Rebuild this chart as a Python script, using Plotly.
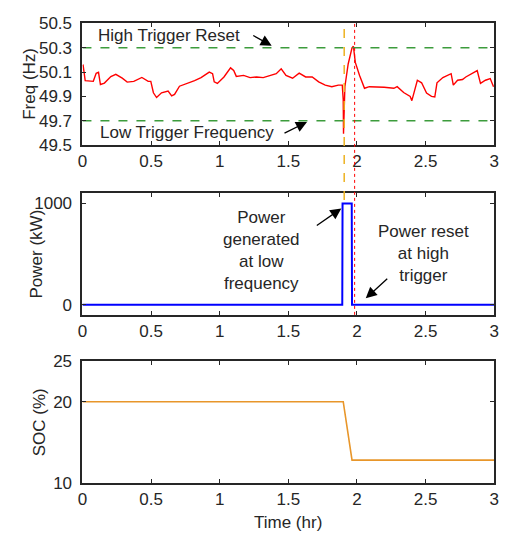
import plotly.graph_objects as go

W, H = 510, 542

# ---- data ----
freq_time = [0, 0.005, 0.02, 0.079, 0.10, 0.117, 0.131, 0.16, 0.207, 0.243, 0.29, 0.326, 0.374, 0.433,
             0.479, 0.498, 0.517, 0.54, 0.576, 0.624, 0.65, 0.671, 0.707, 0.779, 0.817, 0.864, 0.924,
             0.948, 0.96, 0.983, 1.031, 1.079, 1.102, 1.121, 1.174, 1.221, 1.269, 1.317, 1.364, 1.412,
             1.448, 1.483, 1.531, 1.579, 1.626, 1.674, 1.721, 1.769, 1.817, 1.864, 1.893, 1.90, 1.902,
             1.912, 1.936, 1.964, 1.974, 1.988, 2.019, 2.055, 2.09, 2.15, 2.198, 2.269, 2.293, 2.34,
             2.388, 2.40, 2.412, 2.44, 2.471, 2.507, 2.543, 2.567, 2.583, 2.626, 2.686, 2.702, 2.733,
             2.769, 2.793, 2.84, 2.876, 2.90, 2.936, 2.971, 2.995]
freq_hz = [50.153, 50.156, 50.03, 50.024, 50.09, 50.098, 49.998, 50.01, 50.063, 50.082, 50.05, 50.018,
           50.024, 50.056, 50.024, 50.024, 49.93, 49.891, 49.93, 49.944, 49.905, 49.917, 49.984, 50.01,
           50.03, 50.055, 50.10, 50.087, 50.02, 50.007, 50.06, 50.135, 50.113, 50.065, 50.073, 50.055,
           50.06, 50.055, 50.073, 50.087, 50.127, 50.073, 50.05, 50.092, 50.06, 50.06, 50.02, 49.993,
           49.98, 49.993, 49.993, 49.873, 49.593, 49.98, 50.167, 50.30, 50.313, 50.18, 50.073, 49.967,
           49.98, 49.98, 49.975, 49.967, 49.98, 49.932, 49.90, 49.865, 49.913, 50.033, 50.012, 49.927,
           49.90, 49.895, 50.012, 50.055, 50.087, 49.993, 50.033, 50.039, 50.06, 50.087, 50.113, 50.007,
           50.033, 50.047, 49.98]

power_time = [0, 1.893, 1.895, 1.962, 1.964, 3.0]
power_kw = [0, 0, 1000, 1000, 0, 0]

soc_time = [0, 1.90, 1.964, 3.0]
soc_pct = [20, 20, 12.8, 12.8]

high_trigger = 50.3
low_trigger = 49.7
low_trigger_time = 1.907
reset_time = 1.983

x_ticks = [0, 0.5, 1, 1.5, 2, 2.5, 3]
x_ticktext = ["0", "0.5", "1", "1.5", "2", "2.5", "3"]
freq_ticks = [49.5, 49.7, 49.9, 50.1, 50.3, 50.5]
power_ticks = [0, 1000]
soc_ticks = [10, 20, 25]

# ---- layout geometry (pixels) ----
XL, XR = 79, 499
panels = [(15, 141), (191, 317), (365, 491)]

def ydom(top, bot):
    return [1 - bot / H, 1 - top / H]

FONT = "Liberation Sans, Arial, sans-serif"
TXT = "#262626"
FS = 17

fig = go.Figure()
fig.add_trace(go.Scatter(x=freq_time, y=freq_hz, mode="lines", line=dict(color="#ff0000", width=1.4),
                         xaxis="x", yaxis="y", showlegend=False))
fig.add_trace(go.Scatter(x=[0, 3], y=[high_trigger, high_trigger], mode="lines",
                         line=dict(color="#3c9c3c", width=1.6, dash="dash"), xaxis="x", yaxis="y", showlegend=False))
fig.add_trace(go.Scatter(x=[0, 3], y=[low_trigger, low_trigger], mode="lines",
                         line=dict(color="#3c9c3c", width=1.6, dash="dash"), xaxis="x", yaxis="y", showlegend=False))
fig.add_trace(go.Scatter(x=power_time, y=power_kw, mode="lines", line=dict(color="#0000ff", width=2),
                         xaxis="x2", yaxis="y2", showlegend=False))
fig.add_trace(go.Scatter(x=soc_time, y=soc_pct, mode="lines", line=dict(color="#e8962a", width=1.6),
                         xaxis="x3", yaxis="y3", showlegend=False))

axis_common = dict(showline=True, linewidth=2, linecolor=TXT, mirror="ticks", ticks="inside",
                   ticklen=4, tickwidth=1, tickcolor=TXT, showgrid=False, zeroline=False,
                   tickfont=dict(family=FONT, size=FS, color=TXT))
dom_x = [XL / W, XR / W]
layout = dict(width=W, height=H, margin=dict(l=0, r=0, t=0, b=0),
              paper_bgcolor="white", plot_bgcolor="white", showlegend=False)
names = [("xaxis", "yaxis", "x", "y"), ("xaxis2", "yaxis2", "x2", "y2"), ("xaxis3", "yaxis3", "x3", "y3")]
yranges = [[49.5, 50.5], [-100, 1100], [10, 25]]
yticks = [freq_ticks, power_ticks, soc_ticks]
yfmt = [".1f", "d", "d"]
for i, (xa, ya, xr, yr) in enumerate(names):
    layout[xa] = dict(axis_common, domain=dom_x, range=[0, 3], anchor=yr,
                      tickvals=x_ticks, ticktext=x_ticktext)
    layout[ya] = dict(axis_common, domain=ydom(*panels[i]), range=yranges[i], anchor=xr,
                      tickvals=yticks[i], tickformat=yfmt[i], ticklabelstandoff=5)
fig.update_layout(**layout)

# vertical event lines
fig.add_shape(type="line", xref="x", yref="paper", x0=low_trigger_time, x1=low_trigger_time,
              y0=1 - 198 / H, y1=1 - 15 / H, line=dict(color="#edb120", width=1.5, dash="dash"))
fig.add_shape(type="line", xref="x", yref="paper", x0=reset_time, x1=reset_time,
              y0=1 - 317 / H, y1=1 - 15 / H, line=dict(color="#ff0000", width=1, dash="dot"))

afont = dict(family=FONT, size=FS, color=TXT)
arrow = dict(text="", showarrow=True, arrowhead=2, arrowsize=1.7, arrowwidth=1.3, arrowcolor="black")
ann = []
ann.append(dict(x=0.629, y=50.405, xref="x", yref="y", text="High Trigger Reset", showarrow=False, font=afont,
                xanchor="center", yanchor="middle"))
ann.append(dict(x=0.764, y=49.603, xref="x", yref="y", text="Low Trigger Frequency", showarrow=False, font=afont,
                xanchor="center", yanchor="middle"))
ann.append(dict(arrow, x=1.379, y=50.317, xref="x", yref="y", ax=-20, ay=-11))
ann.append(dict(arrow, x=1.636, y=49.69, xref="x", yref="y", ax=-24, ay=12))
ann.append(dict(x=1.307, y=535, xref="x2", yref="y2", text="Power<br>generated<br>at low<br>frequency",
                showarrow=False, font=afont, align="center", xanchor="center", yanchor="middle"))
ann.append(dict(x=2.486, y=507, xref="x2", yref="y2", text="Power reset<br>at high<br>trigger",
                showarrow=False, font=afont, align="center", xanchor="center", yanchor="middle"))
ann.append(dict(arrow, x=1.886, y=950, xref="x2", yref="y2", ax=-26, ay=18))
ann.append(dict(arrow, x=2.064, y=63, xref="x2", yref="y2", ax=23, ay=-21))
# axis titles
ann.append(dict(x=25 / W, y=1 - 78 / H, xref="paper", yref="paper", text="Freq (Hz)", textangle=-90,
                showarrow=False, font=afont, xanchor="center", yanchor="middle"))
ann.append(dict(x=32 / W, y=1 - 254 / H, xref="paper", yref="paper", text="Power (kW)", textangle=-90,
                showarrow=False, font=afont, xanchor="center", yanchor="middle"))
ann.append(dict(x=36 / W, y=1 - 428 / H, xref="paper", yref="paper", text="SOC (%)", textangle=-90,
                showarrow=False, font=afont, xanchor="center", yanchor="middle"))
ann.append(dict(x=289 / W, y=1 - 532 / H, xref="paper", yref="paper", text="Time (hr)",
                showarrow=False, font=afont, xanchor="center", yanchor="middle"))
fig.update_layout(annotations=ann)

fig.write_html("out.html", config={"displayModeBar": False},
               post_script="document.body.style.margin='0';document.body.style.overflow='hidden';")
